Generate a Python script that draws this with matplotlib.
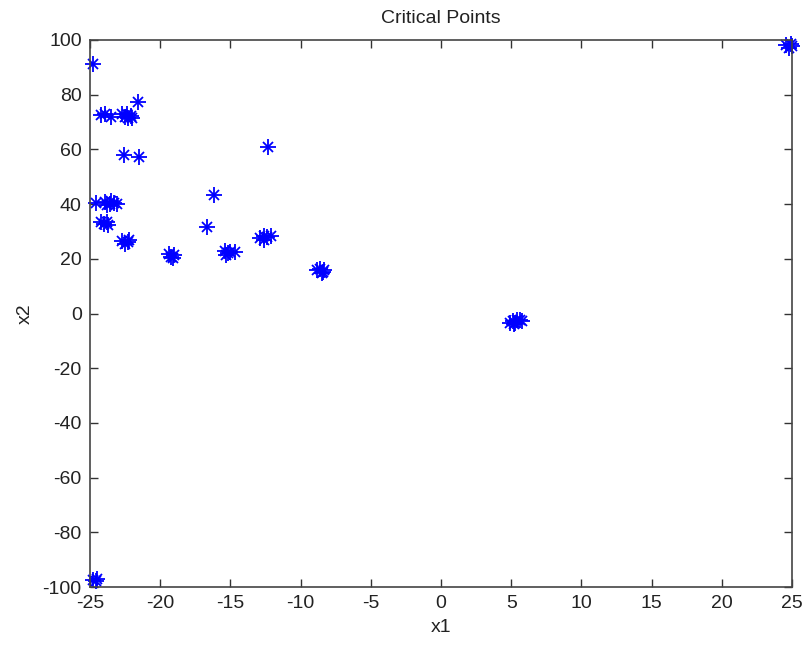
import numpy as np
import matplotlib
matplotlib.use('Agg')
import matplotlib.pyplot as plt

plt.rcParams['font.family'] = ['Liberation Sans', 'DejaVu Sans']
plt.rcParams['axes.unicode_minus'] = False

# critical points (clusters of nearby solutions)
x1 = [-24.8,
      -21.6,
      -24.2, -23.9, -23.5, -22.7, -22.5, -22.3, -22.1, -22.0, -22.4,
      -22.6, -21.5,
      -12.3,
      -24.6, -23.9, -23.6, -23.3, -23.5, -23.8, -23.1,
      -16.2,
      -24.2, -24.0, -23.7, -23.8,
      -16.7,
      -22.7, -22.3, -22.5, -22.2,
      -19.4, -19.2, -19.0, -19.1,
      -15.4, -15.2, -15.0, -14.7, -15.3,
      -12.9, -12.6, -12.4, -12.1, -12.6,
      -8.8, -8.6, -8.4, -8.5, -8.3,
      4.9, 5.1, 5.3, 5.4, 5.6, 5.8, 5.2,
      24.6, 24.8, 25.0, 24.9,
      -24.8, -24.6, -24.5]
x2 = [91.3,
      77.5,
      72.5, 72.8, 72.0, 72.8, 72.0, 71.3, 72.2, 71.5, 73.0,
      58.0, 57.2,
      60.8,
      40.3, 40.8, 40.0, 40.5, 41.2, 39.8, 40.2,
      43.3,
      33.4, 32.6, 32.5, 33.5,
      31.7,
      26.5, 26.0, 25.5, 26.8,
      21.8, 20.8, 21.3, 20.2,
      22.8, 22.0, 22.4, 22.6, 21.5,
      27.5, 28.2, 27.8, 28.3, 27.0,
      15.8, 16.2, 15.3, 14.8, 15.8,
      -3.3, -2.8, -3.5, -2.5, -2.2, -2.8, -3.8,
      98.0, 97.2, 97.8, 98.5,
      -97.5, -97.8, -97.2]

xticks = np.arange(-25, 26, 5)
yticks = np.arange(-100, 101, 20)

fig = plt.figure(figsize=(8.06, 6.47), dpi=100)
ax = fig.add_axes([0.1117, 0.0927, 0.8709, 0.8455])

# matlab style asterisk = plus + cross
ax.plot(x1, x2, linestyle='none', marker='+', markersize=11, mew=1.3, color='#0000ff', clip_on=False)
ax.plot(x1, x2, linestyle='none', marker='x', markersize=7, mew=1.3, color='#0000ff', clip_on=False)

ax.set_xlim(-25, 25)
ax.set_ylim(-100, 100)
ax.set_xticks(xticks)
ax.set_yticks(yticks)
ax.tick_params(direction='in', length=6, width=1, color='#333333', labelsize=14,
               top=True, right=True, pad=6, labelcolor='#222222')
for s in ax.spines.values():
    s.set_color('#444444')
    s.set_linewidth(1.2)

ax.set_title('Critical Points', fontsize=14, color='#222222', pad=12)
ax.set_xlabel('x1', fontsize=14, color='#222222', labelpad=5)
ax.set_ylabel('x2', fontsize=14, color='#222222', labelpad=6)

fig.savefig('out.png', dpi=100)
